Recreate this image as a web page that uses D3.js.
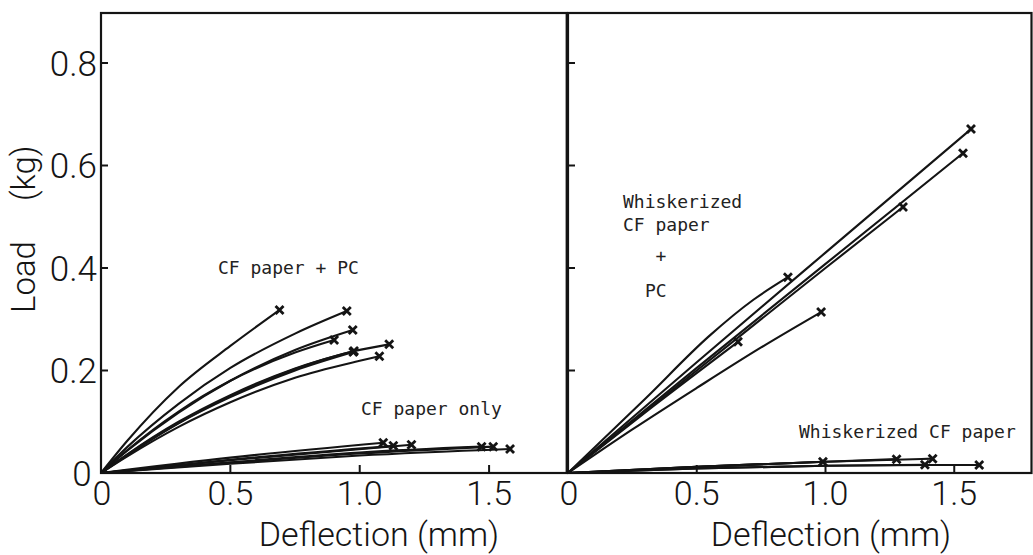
<!DOCTYPE html>
<html>
<head>
<meta charset="utf-8">
<script src="https://cdn.jsdelivr.net/npm/d3@7"></script>
<style>
  html, body { margin: 0; padding: 0; background: #fff; }
  svg { display: block; }
</style>
</head>
<body>
<svg id="chart" width="1033" height="555"></svg>
<script>
// Axis ticks
const deflectionTicks = [0.5, 1.0, 1.5];
const deflectionTickLabels = ["0.5", "1.0", "1.5"];
const loadTicks = [0.2, 0.4, 0.6, 0.8];
const loadTickLabels = ["0.2", "0.4", "0.6", "0.8"];

// Load–deflection records, [deflection (mm), load (kg)]; last point = fracture
const cfPaperPC = [
  [[0,0],[0.1,0.062],[0.3,0.168],[0.5,0.248],[0.69,0.318]],
  [[0,0],[0.1,0.05],[0.3,0.135],[0.5,0.205],[0.75,0.272],[0.95,0.316]],
  [[0,0],[0.1,0.043],[0.3,0.118],[0.5,0.18],[0.75,0.24],[0.973,0.279]],
  [[0,0],[0.1,0.044],[0.3,0.12],[0.5,0.18],[0.75,0.235],[0.901,0.2595]],
  [[0,0],[0.1,0.036],[0.3,0.1],[0.5,0.152],[0.75,0.204],[0.978,0.238]],
  [[0,0],[0.1,0.034],[0.3,0.097],[0.5,0.148],[0.75,0.2],[0.975,0.236]],
  [[0,0],[0.1,0.035],[0.3,0.098],[0.5,0.15],[0.75,0.203],[0.98,0.238],[1.114,0.251]],
  [[0,0],[0.1,0.032],[0.3,0.09],[0.5,0.138],[0.75,0.186],[1.0,0.219],[1.076,0.228]]
];
const cfPaperOnly = [
  [[0,0],[0.5,0.03],[1.091,0.059]],
  [[0,0],[0.5,0.026],[1.13,0.053]],
  [[0,0],[0.5,0.025],[1.2,0.055]],
  [[0,0],[0.5,0.021],[1.0,0.04],[1.471,0.0514]],
  [[0,0],[0.5,0.02],[1.0,0.038],[1.516,0.0514]],
  [[0,0],[0.5,0.018],[1.0,0.034],[1.581,0.0468]]
];
const whiskerizedPC = [
  [[0,0],[0.5,0.216],[1.0,0.43],[1.565,0.671]],
  [[0,0],[0.5,0.205],[1.0,0.408],[1.534,0.624]],
  [[0,0],[0.5,0.2],[1.0,0.4],[1.301,0.519]],
  [[0,0],[0.3,0.145],[0.55,0.268],[0.72,0.338],[0.854,0.382]],
  [[0,0],[0.25,0.085],[0.5,0.166],[0.75,0.245],[0.983,0.314]],
  [[0,0],[0.33,0.13],[0.66,0.256]]
];
const whiskerizedOnly = [
  [[0,0],[0.5,0.012],[0.99,0.022]],
  [[0,0],[0.5,0.012],[1.0,0.022],[1.276,0.027]],
  [[0,0],[0.5,0.012],[1.0,0.022],[1.416,0.028]],
  [[0,0],[0.5,0.009],[1.0,0.014],[1.386,0.016]],
  [[0,0],[0.5,0.009],[1.0,0.014],[1.4,0.0155],[1.597,0.0156]]
];

const ink = "#141414";
const svg = d3.select("#chart");

const y = d3.scaleLinear().domain([0, 0.8]).range([473, 63]);
const frameTop = 13;
const panels = [
  { x: d3.scaleLinear().domain([0, 1.8]).range([101, 566.7]),
    groups: [cfPaperPC, cfPaperOnly], yLabels: true, titleX: 379 },
  { x: d3.scaleLinear().domain([0, 1.8]).range([568, 1031.5]),
    groups: [whiskerizedPC, whiskerizedOnly], yLabels: false, titleX: 831 }
];

const axisFont = "Roboto, 'DejaVu Sans', sans-serif";
const noteFont = "'DejaVu Sans Mono', monospace";

panels.forEach(p => {
  const g = svg.append("g");
  const [x0, x1] = p.x.range();

  // frame
  g.append("rect")
    .attr("x", x0).attr("y", frameTop)
    .attr("width", x1 - x0).attr("height", y(0) - frameTop)
    .attr("fill", "none").attr("stroke", ink).attr("stroke-width", 2.2);

  // inward ticks
  g.selectAll(".yt").data(loadTicks).join("line")
    .attr("x1", x0).attr("x2", x0 + 7)
    .attr("y1", d => y(d)).attr("y2", d => y(d))
    .attr("stroke", ink).attr("stroke-width", 2);
  g.selectAll(".xt").data(deflectionTicks).join("line")
    .attr("x1", d => p.x(d)).attr("x2", d => p.x(d))
    .attr("y1", y(0)).attr("y2", y(0) - 8)
    .attr("stroke", ink).attr("stroke-width", 2);

  // x tick labels
  g.selectAll(".xl").data(deflectionTicks).join("text")
    .attr("x", d => p.x(d)).attr("y", 505)
    .attr("text-anchor", "middle")
    .attr("font-family", axisFont).attr("font-weight", 300)
    .attr("font-size", 34).attr("fill", ink)
    .text((d, i) => deflectionTickLabels[i]);
  g.append("text")
    .attr("x", p.x(0) + 1).attr("y", 505)
    .attr("text-anchor", "middle")
    .attr("font-family", axisFont).attr("font-weight", 300)
    .attr("font-size", 34).attr("fill", ink)
    .text("0");

  if (p.yLabels) {
    g.selectAll(".yl").data(loadTicks).join("text")
      .attr("x", x0 - 4).attr("y", d => y(d) + 12.5)
      .attr("text-anchor", "end")
      .attr("font-family", axisFont).attr("font-weight", 300)
      .attr("font-size", 35).attr("fill", ink)
      .text((d, i) => loadTickLabels[i]);
    g.append("text")
      .attr("x", 82).attr("y", 486)
      .attr("text-anchor", "middle")
      .attr("font-family", axisFont).attr("font-weight", 300)
      .attr("font-size", 35).attr("fill", ink)
      .text("0");
  }

  // axis title
  g.append("text")
    .attr("x", p.titleX).attr("y", 546)
    .attr("text-anchor", "middle")
    .attr("font-family", axisFont).attr("font-weight", 300)
    .attr("font-size", 34).attr("fill", ink)
    .text("Deflection (mm)");

  // curves and fracture marks
  const line = d3.line().x(d => p.x(d[0])).y(d => y(d[1])).curve(d3.curveMonotoneX);
  p.groups.forEach(group => {
    g.selectAll(null).data(group).join("path")
      .attr("d", line)
      .attr("fill", "none").attr("stroke", ink).attr("stroke-width", 2.1);
    g.selectAll(null).data(group.map(s => s[s.length - 1])).join("path")
      .attr("transform", d => `translate(${p.x(d[0])},${y(d[1])})`)
      .attr("d", "M-4,-4L4,4M-4,4L4,-4")
      .attr("fill", "none").attr("stroke", ink).attr("stroke-width", 2.8);
  });
});

// y-axis title
const yt = svg.append("g").attr("transform", "translate(35,0) rotate(-90)");
yt.append("text").attr("x", -313).attr("y", 0)
  .attr("font-family", axisFont).attr("font-weight", 300)
  .attr("font-size", 33).attr("fill", ink)
  .text("Load");
yt.append("text").attr("x", -201).attr("y", 0)
  .attr("font-family", axisFont).attr("font-weight", 300)
  .attr("font-size", 33).attr("fill", ink)
  .text("(kg)");

// specimen annotations
const notes = [
  { t: "CF paper + PC", x: 218, y: 274 },
  { t: "CF paper only", x: 361, y: 415 },
  { t: "Whiskerized", x: 623, y: 208 },
  { t: "CF paper", x: 623, y: 231 },
  { t: "+", x: 655.5, y: 262 },
  { t: "PC", x: 645, y: 297 },
  { t: "Whiskerized CF paper", x: 799, y: 438 }
];
svg.selectAll(".note").data(notes).join("text")
  .attr("x", d => d.x).attr("y", d => d.y)
  .attr("font-family", noteFont).attr("font-size", 18).attr("fill", "#222")
  .text(d => d.t);
</script>
</body>
</html>
